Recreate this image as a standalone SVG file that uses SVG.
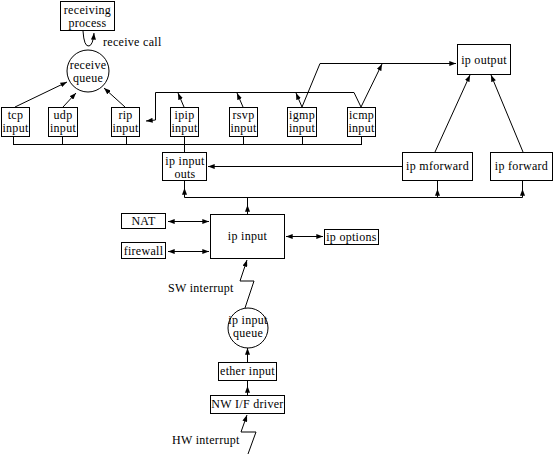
<svg xmlns="http://www.w3.org/2000/svg" width="554" height="454" viewBox="0 0 554 454">
<style>
rect.b{fill:#fff;stroke:#000;stroke-width:1}
circle.c{fill:#fff;stroke:#000;stroke-width:1}
text{font-family:"Liberation Serif","Times New Roman",serif;font-size:12px;letter-spacing:0.3px;fill:#000;text-anchor:middle}
text.l{text-anchor:start}
.ln{fill:none;stroke:#000;stroke-width:1}
.a{marker-end:url(#ah)}
.m{marker-mid:url(#ah)}
.s{marker-start:url(#as)}
</style>
<defs>
<marker id="ah" viewBox="0 0 8 6" refX="8" refY="3" markerWidth="7" markerHeight="5" orient="auto" markerUnits="userSpaceOnUse"><path d="M0,0 L8,3 L0,6 Z" fill="#000"/></marker>
<marker id="as" viewBox="0 0 8 6" refX="0" refY="3" markerWidth="7" markerHeight="5" orient="auto" markerUnits="userSpaceOnUse"><path d="M8,0 L0,3 L8,6 Z" fill="#000"/></marker>
</defs>
<rect width="554" height="454" fill="#fff"/>
<g id="connectors">
<path class="ln a" d="M83,31 Q84,47 89,46 Q93,45 94,33"/>
<path class="ln a" d="M15,107 L67,82"/>
<path class="ln a" d="M63,107 L76,93"/>
<path class="ln a" d="M125,107 L104,88"/>
<path class="ln" d="M13.5,137 V144.5 M62.5,137 V144.5 M126.5,137 V144.5 M243.5,137 V144.5 M302.5,137 V144.5 M361.5,137 V144.5 M13,144.5 H362 M184.5,137 V152"/>
<path class="ln a" d="M361,107 L354,92.5 H155.5 V120 L146,121"/>
<path class="ln a" d="M184,107 L178,93"/>
<path class="ln a" d="M243,107 L237,93"/>
<path class="ln a" d="M302,107 L296,93"/>
<path class="ln a" d="M302,107 L320,63.5 H456"/>
<path class="ln a" d="M361,107 L382,64"/>
<path class="ln a" d="M435,152 L470,75"/>
<path class="ln a" d="M523,152 L491,75"/>
<path class="ln a" d="M402,166.5 H208"/>
<path class="ln" d="M184.5,197.5 H522.5"/>
<path class="ln m" d="M184.5,197.5 V188 V181"/>
<path class="ln m" d="M437.5,197.5 V189 V181"/>
<path class="ln m" d="M522.5,197.5 V189 V181"/>
<path class="ln m" d="M247.5,214 V205 V197.5"/>
<path class="ln s a" d="M168,221.5 H209"/>
<path class="ln s a" d="M168,251.5 H209"/>
<path class="ln s a" d="M286,236.5 H323"/>
<path class="ln a" d="M245,308 L254,281 L240,281 L247,260"/>
<path class="ln a" d="M247.5,362 V348"/>
<path class="ln m" d="M247.5,395 V386 V381"/>
<path class="ln a" d="M248,454 L256,432 L241,432 L247,415"/>
</g>
<g id="receiving-process"><rect class="b" x="60.5" y="1.5" width="54" height="29"/><text x="87.5" y="14">receiving</text><text x="87.5" y="27">process</text></g>
<g id="receive-call"><text class="l" x="103" y="46">receive call</text></g>
<g id="receive-queue"><circle class="c" cx="88" cy="71" r="21"/><text x="88" y="69">receive</text><text x="88" y="82">queue</text></g>
<g id="tcp-input"><rect class="b" x="1.5" y="107.5" width="28" height="29"/><text x="15.5" y="119">tcp</text><text x="15.5" y="132">input</text></g>
<g id="udp-input"><rect class="b" x="48.5" y="107.5" width="29" height="29"/><text x="63" y="119">udp</text><text x="63" y="132">input</text></g>
<g id="rip-input"><rect class="b" x="111.5" y="107.5" width="28" height="29"/><text x="125.5" y="119">rip</text><text x="125.5" y="132">input</text></g>
<g id="ipip-input"><rect class="b" x="170.5" y="107.5" width="28" height="29"/><text x="184.5" y="119">ipip</text><text x="184.5" y="132">input</text></g>
<g id="rsvp-input"><rect class="b" x="229.5" y="107.5" width="28" height="29"/><text x="243.5" y="119">rsvp</text><text x="243.5" y="132">input</text></g>
<g id="igmp-input"><rect class="b" x="287.5" y="107.5" width="29" height="29"/><text x="302" y="119">igmp</text><text x="302" y="132">input</text></g>
<g id="icmp-input"><rect class="b" x="347.5" y="107.5" width="28" height="29"/><text x="361.5" y="119">icmp</text><text x="361.5" y="132">input</text></g>
<g id="ip-output"><rect class="b" x="457.5" y="44.5" width="53" height="30"/><text x="484" y="64">ip output</text></g>
<g id="ip-input-outs"><rect class="b" x="162.5" y="152.5" width="44" height="28"/><text x="185" y="165">ip input</text><text x="185" y="178">outs</text></g>
<g id="ip-mforward"><rect class="b" x="402.5" y="152.5" width="70" height="28"/><text x="437.5" y="170">ip mforward</text></g>
<g id="ip-forward"><rect class="b" x="490.5" y="152.5" width="62" height="28"/><text x="521.5" y="170">ip forward</text></g>
<g id="nat"><rect class="b" x="121.5" y="213.5" width="44" height="15"/><text x="143.5" y="225">NAT</text></g>
<g id="firewall"><rect class="b" x="121.5" y="242.5" width="44" height="16"/><text x="143.5" y="255">firewall</text></g>
<g id="ip-input"><rect class="b" x="210.5" y="214.5" width="74" height="44"/><text x="247.5" y="240">ip input</text></g>
<g id="ip-options"><rect class="b" x="324.5" y="229.5" width="54" height="15"/><text x="351.5" y="241">ip options</text></g>
<g id="sw-interrupt"><text class="l" x="168" y="292">SW interrupt</text></g>
<g id="ip-input-queue"><circle class="c" cx="248" cy="328" r="20"/><text x="248" y="324">ip input</text><text x="248" y="337">queue</text></g>
<g id="ether-input"><rect class="b" x="218.5" y="362.5" width="58" height="18"/><text x="247.5" y="375">ether input</text></g>
<g id="nw-if-driver"><rect class="b" x="210.5" y="395.5" width="74" height="18"/><text x="247.5" y="408">NW I/F driver</text></g>
<g id="hw-interrupt"><text class="l" x="172" y="444">HW interrupt</text></g>
</svg>
